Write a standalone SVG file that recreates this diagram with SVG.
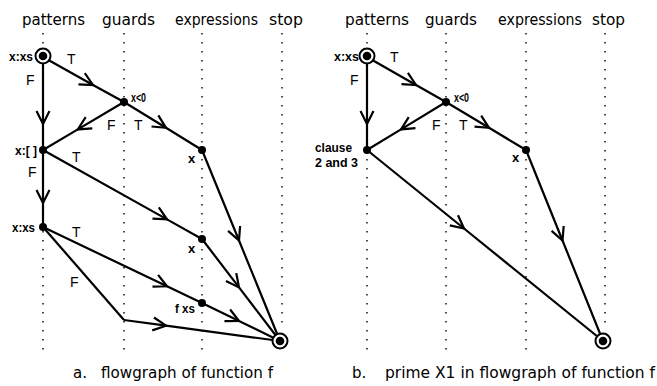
<svg xmlns="http://www.w3.org/2000/svg" width="657" height="386" viewBox="0 0 657 386">
<style>
.col{stroke:#000;stroke-width:1.4;stroke-dasharray:1.4 7.6;fill:none}
.e{stroke:#000;stroke-width:2.2;fill:none;marker-mid:url(#arr)}
.p{stroke:#000;stroke-width:2.2;fill:none}
.hd{font-family:"DejaVu Sans",sans-serif;font-size:15px;fill:#000}
.cap{font-family:"DejaVu Sans",sans-serif;font-size:15px;fill:#000}
.lb{font-family:"Liberation Sans",Arial,sans-serif;font-size:13px;font-weight:bold;fill:#000}
.tf{font-family:"Liberation Sans",Arial,sans-serif;font-size:14px;fill:#000}
.dot{fill:#000}
.ring{fill:#fff;stroke:#000;stroke-width:2}
</style>
<defs>
<marker id="arr" markerUnits="userSpaceOnUse" markerWidth="16" markerHeight="16" viewBox="-14 -8 16 16" refX="0" refY="0" orient="auto">
<path d="M-13,-6.5 L0,0 L-13,6.5" fill="none" stroke="#000" stroke-width="2.2"/>
</marker>
</defs>
<rect width="657" height="386" fill="#fff"/>
<g id="columns">
<line class="col" x1="43" y1="33" x2="43" y2="352"/>
<line class="col" x1="124" y1="33" x2="124" y2="352"/>
<line class="col" x1="202" y1="33" x2="202" y2="352"/>
<line class="col" x1="282" y1="33" x2="282" y2="328"/>
<line class="col" x1="367" y1="33" x2="367" y2="352"/>
<line class="col" x1="446" y1="33" x2="446" y2="352"/>
<line class="col" x1="526" y1="33" x2="526" y2="352"/>
<line class="col" x1="605" y1="33" x2="605" y2="328"/>
</g>
<g id="headers">
<text class="hd" x="22" y="25" textLength="63" lengthAdjust="spacingAndGlyphs">patterns</text>
<text class="hd" x="102" y="25" textLength="53" lengthAdjust="spacingAndGlyphs">guards</text>
<text class="hd" x="175" y="25" textLength="83" lengthAdjust="spacingAndGlyphs">expressions</text>
<text class="hd" x="269" y="25" textLength="34" lengthAdjust="spacingAndGlyphs">stop</text>
<text class="hd" x="345" y="25" textLength="64" lengthAdjust="spacingAndGlyphs">patterns</text>
<text class="hd" x="425" y="25" textLength="52" lengthAdjust="spacingAndGlyphs">guards</text>
<text class="hd" x="498" y="25" textLength="84" lengthAdjust="spacingAndGlyphs">expressions</text>
<text class="hd" x="592" y="25" textLength="33" lengthAdjust="spacingAndGlyphs">stop</text>
</g>
<g id="connectors">
<path class="e" d="M43,57 L93,85 L124,102"/>
<path class="e" d="M43,57 L43,124 L43,150"/>
<path class="e" d="M124,102 L77.8,129.4 L43,150"/>
<path class="e" d="M124,102 L166,127.8 L202,150"/>
<path class="e" d="M43,150 L43,203 L43,227"/>
<path class="e" d="M43,150 L167,219.4 L202,239"/>
<path class="e" d="M202,150 L239,240.5 L280,341"/>
<path class="e" d="M43,227 L167,286.3 L202,303"/>
<path class="e" d="M202,239 L239,287.4 L280,341"/>
<path class="e" d="M202,303 L239,321 L280,341"/>
<path class="p" d="M43,227 L124,320"/>
<path class="e" d="M124,320 L166,325.7 L280,341"/>
<path class="e" d="M367,57 L416,85 L446,102"/>
<path class="e" d="M367,57 L367,124 L367,150"/>
<path class="e" d="M446,102 L401,129.4 L367,150"/>
<path class="e" d="M446,102 L489,127.8 L526,150"/>
<path class="e" d="M367,150 L464,228.5 L603,341"/>
<path class="e" d="M526,150 L562.5,240.5 L603,341"/>
</g>
<g id="edge-labels">
<text class="tf" x="67" y="64">T</text>
<text class="tf" x="26" y="85">F</text>
<text class="tf" x="107" y="130">F</text>
<text class="tf" x="134" y="130">T</text>
<text class="tf" x="72" y="162">T</text>
<text class="tf" x="28" y="177">F</text>
<text class="tf" x="72" y="237">T</text>
<text class="tf" x="70" y="287">F</text>
<text class="tf" x="390" y="62">T</text>
<text class="tf" x="350" y="85">F</text>
<text class="tf" x="432" y="130">F</text>
<text class="tf" x="459" y="130">T</text>
</g>
<g id="n-start-a"><circle class="ring" cx="43" cy="56" r="7.5"/><circle class="dot" cx="43" cy="56" r="4.3"/><text class="lb" x="9" y="61" textLength="24" lengthAdjust="spacingAndGlyphs">x:xs</text></g>
<g id="n-guard-a"><circle class="dot" cx="124" cy="102" r="4"/><text class="lb" x="131" y="102" textLength="15" lengthAdjust="spacingAndGlyphs">x&lt;0</text></g>
<g id="n-nil-a"><circle class="dot" cx="43" cy="150" r="4"/><text class="lb" x="15" y="155" textLength="22" lengthAdjust="spacingAndGlyphs">x:[ ]</text></g>
<g id="n-x1-a"><circle class="dot" cx="202" cy="150" r="4"/><text class="lb" x="188" y="163">x</text></g>
<g id="n-cons-a"><circle class="dot" cx="43" cy="227" r="4"/><text class="lb" x="12" y="232" textLength="23" lengthAdjust="spacingAndGlyphs">x:xs</text></g>
<g id="n-x2-a"><circle class="dot" cx="202" cy="239" r="4"/><text class="lb" x="188" y="253">x</text></g>
<g id="n-fxs-a"><circle class="dot" cx="202" cy="303" r="4"/><text class="lb" x="175" y="313" textLength="20" lengthAdjust="spacingAndGlyphs">f xs</text></g>
<g id="n-stop-a"><circle class="ring" cx="280" cy="341" r="7.5"/><circle class="dot" cx="280" cy="341" r="4.3"/></g>
<g id="n-start-b"><circle class="ring" cx="367" cy="56" r="7.5"/><circle class="dot" cx="367" cy="56" r="4.3"/><text class="lb" x="334" y="61" textLength="25" lengthAdjust="spacingAndGlyphs">x:xs</text></g>
<g id="n-guard-b"><circle class="dot" cx="446" cy="102" r="4"/><text class="lb" x="454" y="102" textLength="15" lengthAdjust="spacingAndGlyphs">x&lt;0</text></g>
<g id="n-clause-b"><circle class="dot" cx="367" cy="150" r="4"/><text class="lb" x="315" y="152" textLength="37" lengthAdjust="spacingAndGlyphs">clause</text><text class="lb" x="315" y="167" textLength="43" lengthAdjust="spacingAndGlyphs">2 and 3</text></g>
<g id="n-x1-b"><circle class="dot" cx="526" cy="150" r="4"/><text class="lb" x="512" y="162">x</text></g>
<g id="n-stop-b"><circle class="ring" cx="603" cy="341" r="7.5"/><circle class="dot" cx="603" cy="341" r="4.3"/></g>
<g id="captions">
<text class="cap" x="73" y="378">a.</text>
<text class="cap" x="101" y="378" textLength="172" lengthAdjust="spacingAndGlyphs">flowgraph of function f</text>
<text class="cap" x="352" y="378">b.</text>
<text class="cap" x="385" y="378" textLength="270" lengthAdjust="spacingAndGlyphs">prime X1 in flowgraph of function f</text>
</g>
</svg>
